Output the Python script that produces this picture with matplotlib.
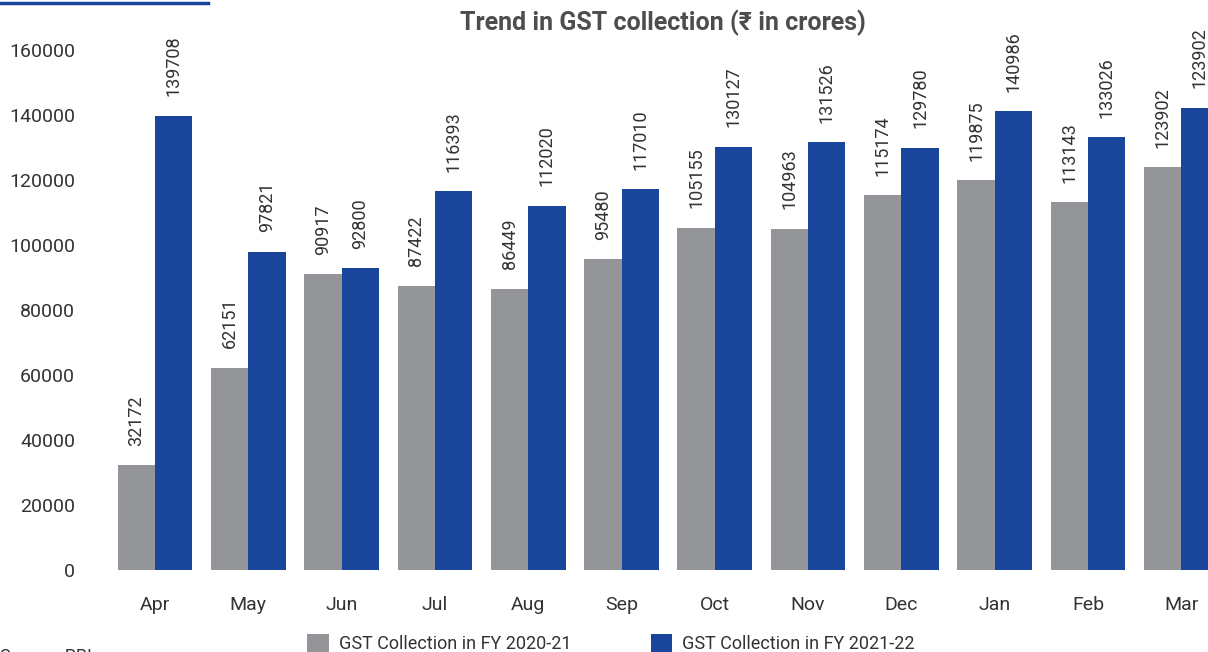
import matplotlib
matplotlib.use("Agg")
import matplotlib.pyplot as plt
import numpy as np
from matplotlib.lines import Line2D

plt.rcParams['font.family'] = ['Roboto', 'DejaVu Sans']

months = ["Apr", "May", "Jun", "Jul", "Aug", "Sep", "Oct", "Nov", "Dec", "Jan", "Feb", "Mar"]
fy2021 = [32172, 62151, 90917, 87422, 86449, 95480, 105155, 104963, 115174, 119875, 113143, 123902]
fy2122 = [139708, 97821, 92800, 116393, 112020, 117010, 130127, 131526, 129780, 140986, 133026, 142095]
# value labels as printed on the chart (last blue label repeats the grey one)
labels2021 = [str(v) for v in fy2021]
labels2122 = [str(v) for v in fy2122[:-1]] + ["123902"]

gray = "#939598"
blue = "#19459b"
txt = "#333333"

fig = plt.figure(figsize=(12.08, 6.52), dpi=100)
ax = fig.add_axes([100 / 1208, 82 / 652, 1108 / 1208, 540 / 652])

x = np.arange(len(months))
w = 0.4
b1 = ax.bar(x - w / 2, fy2021, w, color=gray, label="GST Collection in FY 2020-21")
b2 = ax.bar(x + w / 2, fy2122, w, color=blue, label="GST Collection in FY 2021-22")

for bars, labs in ((b1, labels2021), (b2, labels2122)):
    for rect, lab in zip(bars, labs):
        ax.annotate(lab, (rect.get_x() + rect.get_width() / 2, rect.get_height()),
                    xytext=(0, 14), textcoords="offset points", rotation=90,
                    ha="center", va="bottom", fontsize=13, color=txt)

ax.set_xlim(-55 / 93.3, (1208 - 155) / 93.3)
ax.set_ylim(0, 166000)
ax.set_yticks(np.arange(0, 160001, 20000))
ax.set_xticks(x)
ax.set_xticklabels(months)
ax.tick_params(axis="y", length=0, pad=18, labelsize=14, labelcolor=txt)
ax.tick_params(axis="x", length=0, pad=19, labelsize=14, labelcolor=txt)
for s in ax.spines.values():
    s.set_visible(False)

fig.text(663 / 1208, 1 - 23 / 652, "Trend in GST collection (₹ in crores)", ha="center", va="center",
         fontsize=18, fontweight="bold", color="#4d4d4d")

fig.add_artist(Line2D([0, 208 / 1208], [1 - 3 / 652, 1 - 3 / 652], color=blue, lw=2.5))

fig.text(0.0, 4 / 652, "Source: RBI", ha="left", va="top", fontsize=13, color=txt)

fig.legend(handles=[b1, b2], loc="upper left", bbox_to_anchor=(307 / 1208, 1 - 634 / 652),
           ncol=2, frameon=False, fontsize=13, handlelength=1.2, handleheight=1.2,
           handletextpad=0.55, columnspacing=4.4, borderpad=0, borderaxespad=0,
           labelcolor=txt)

fig.savefig("out.png", dpi=100)
